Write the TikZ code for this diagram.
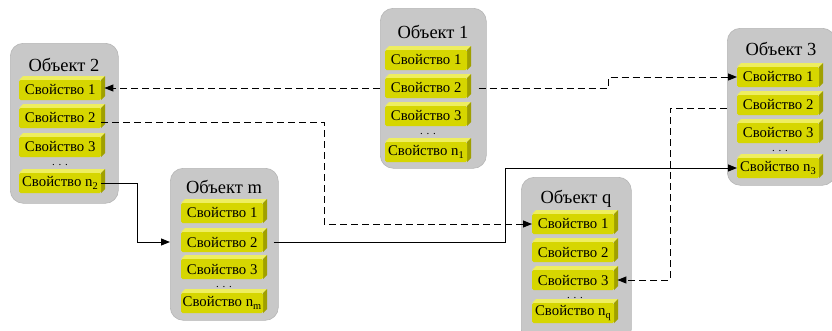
\documentclass[tikz,border=0pt]{standalone}
\usepackage{fontspec}
\setmainfont{Liberation Serif}
\usetikzlibrary{arrows.meta,calc}
\definecolor{boxgray}{RGB}{200,200,200}
\definecolor{boxedge}{RGB}{182,182,182}
\definecolor{propface}{RGB}{214,214,0}
\definecolor{proptop}{RGB}{238,238,96}
\definecolor{propside}{RGB}{160,160,0}
\tikzset{
  objbg/.style={fill=boxgray, draw=boxedge, line width=0.6pt, rounded corners=13pt, inner sep=0pt},
  titletext/.style={inner sep=0pt, font=\fontsize{18.5}{21}\selectfont},
  propbox/.style={fill=propface, rounded corners=1.5pt, minimum width=82pt, minimum height=20pt, inner sep=0pt, anchor=west, font=\fontsize{14.8}{17}\selectfont},
  dotstext/.style={inner sep=0pt, font=\fontsize{11}{12}\selectfont},
  conn/.style={line width=0.95pt, -{Triangle[length=9pt,width=7pt]}},
  dconn/.style={conn, dash pattern=on 7pt off 4pt}
}
\newcommand{\objnode}[7]{% name, x, y, w, h, titleY, title
  \node[objbg, anchor=north west, minimum width=#4pt, minimum height=#5pt] (#1) at (#2,#3) {};
  \node[titletext] (#1t) at ({#2+#4/2},#6) {#7};
}
\newcommand{\propnode}[4]{% name, xleft, yc, text
  \fill[proptop] (#2,{#3-10}) -- ++(4,-4) -- ++(82,0) -- ++(-4,4) -- cycle;
  \fill[propside] ({#2+82},{#3-10}) -- ++(4,-4) -- ++(0,20) -- ++(-4,4) -- cycle;
  \node[propbox] (#1) at (#2,#3) {#4};
}
\begin{document}
\begin{tikzpicture}[x=1pt,y=-1pt]
\clip (0,0) rectangle (832,330);
\useasboundingbox (0,0) rectangle (832,330);

% Object 2
\objnode{o2}{10}{43}{108}{160}{65}{Объект 2}
\propnode{o2p1}{19}{90}{Свойство 1}
\propnode{o2p2}{19}{118}{Свойство 2}
\propnode{o2p3}{19}{147}{Свойство 3}
\node[dotstext] (o2d) at (60,165) {. . .};
\propnode{o2pn}{19}{183}{Свойство n\textsubscript{2}}

% Object 1
\objnode{o1}{380}{8}{106}{160}{32}{Объект 1}
\propnode{o1p1}{385}{60}{Свойство 1}
\propnode{o1p2}{385}{88}{Свойство 2}
\propnode{o1p3}{385}{116}{Свойство 3}
\node[dotstext] (o1d) at (428,134) {. . .};
\propnode{o1pn}{385}{152}{Свойство n\textsubscript{1}}

% Object 3
\objnode{o3}{727}{28}{108}{157}{49}{Объект 3}
\propnode{o3p1}{737}{77}{Свойство 1}
\propnode{o3p2}{737}{105}{Свойство 2}
\propnode{o3p3}{737}{133}{Свойство 3}
\node[dotstext] (o3d) at (780,151) {. . .};
\propnode{o3pn}{737}{168}{Свойство n\textsubscript{3}}

% Object m
\objnode{om}{170}{168}{108}{152}{187}{Объект m}
\propnode{omp1}{181}{213}{Свойство 1}
\propnode{omp2}{181}{242}{Свойство 2}
\propnode{omp3}{181}{269}{Свойство 3}
\node[dotstext] (omd) at (224,287) {. . .};
\propnode{ompn}{181}{303}{Свойство n\textsubscript{m}}

% Object q
\objnode{oq}{521}{177}{110}{165}{199}{Объект q}
\propnode{oqp1}{532}{224}{Свойство 1}
\propnode{oqp2}{532}{252}{Свойство 2}
\propnode{oqp3}{532}{280}{Свойство 3}
\node[dotstext] (oqd) at (575,298) {. . .};
\propnode{oqpn}{532}{313}{Свойство n\textsubscript{q}}

% connectors
\draw[dconn] (o1.west |- o1p2.west) -- ([xshift=3pt]o2p1.east |- o1p2.west);
\draw[dconn] ([xshift=-8pt]o1.east |- o1p2.east) -- ++(130,0) |- (o3p1.west);
\coordinate (c3) at ([yshift=-4pt]o2p2.east);
\draw[dconn] (c3) -- ++(223,0) |- (oqp1.west);
\coordinate (c4) at ([yshift=-3pt]o3p2.west);
\draw[dconn] (c4 -| o3.west) -- ++(-57,0) |- ([xshift=3pt]oqp3.east);
\draw[conn] (o2pn.east) -- ++(36,0) |- (om.west |- omp2.west);
\draw[conn] ([xshift=-5pt]om.east |- omp2.east) -- ++(232,0) |- (o3pn.west);
\end{tikzpicture}
\end{document}
